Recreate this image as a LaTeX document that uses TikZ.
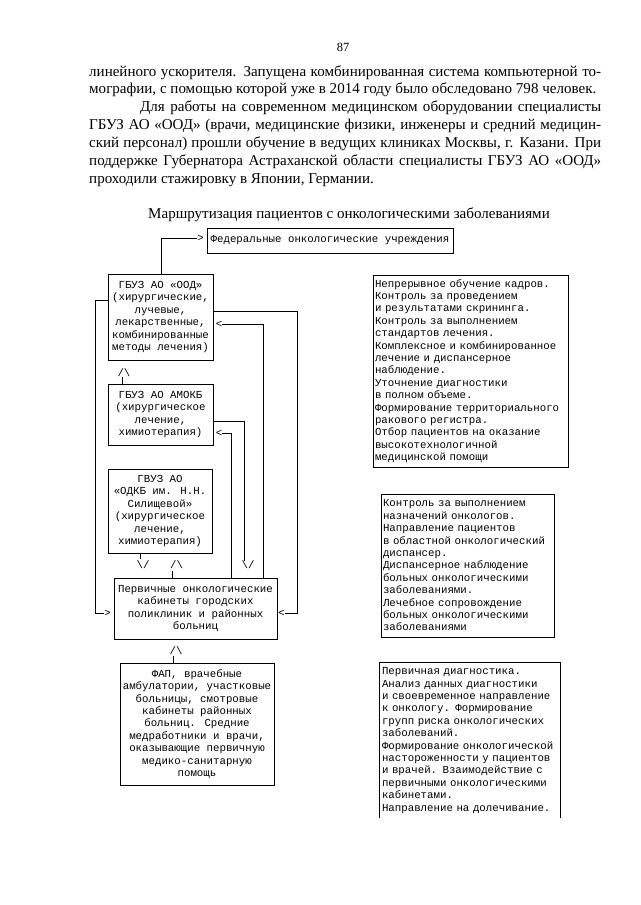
\documentclass[tikz,border=0pt]{standalone}
\usepackage{fontspec}
\setmainfont{Liberation Serif}
\newfontfamily\monof{Liberation Mono}
\newcommand\monosz{\monof\fontsize{10.75}{12.4}\selectfont}
\newcommand\bodysz{\fontsize{15.05}{17.9}\selectfont}
\begin{document}
\begin{tikzpicture}[x=1pt,y=-1pt,
  box/.style={draw, line width=0.7pt, inner sep=0pt, align=center, font=\monosz},
  lbox/.style={draw, line width=0.7pt, inner xsep=2pt, inner ysep=0pt, align=left, font=\monosz},
  arr/.style={inner sep=0pt, font=\monosz},
  conn/.style={line width=0.7pt},
  ptext/.style={anchor=base west, inner sep=0pt, font=\bodysz}]
\fill[white] (0,0) rectangle (640,905);
\useasboundingbox (0,0) rectangle (640,905);

% page text
\node[anchor=base, inner sep=0pt, font=\fontsize{12.5}{14}\selectfont] (pg) at (343,51) {87};
\node[ptext] (l1) at (89,76) {\makebox[512pt][s]{линейного ускорителя. Запущена комбинированная система компьютерной то-}};
\node[ptext] (l2) at (89,93.9) {мографии, с помощью которой уже в 2014 году было обследовано 798 человек.};
\node[ptext] (l3) at (140,111.8) {\makebox[461pt][s]{Для работы на современном медицинском оборудовании специалисты}};
\node[ptext] (l4) at (89,129.7) {\makebox[512pt][s]{ГБУЗ АО «ООД» (врачи, медицинские физики, инженеры и средний медицин-}};
\node[ptext] (l5) at (89,147.6) {\makebox[512pt][s]{ский персонал) прошли обучение в ведущих клиниках Москвы, г. Казани. При}};
\node[ptext] (l6) at (89,165.5) {\makebox[512pt][s]{поддержке Губернатора Астраханской области специалисты ГБУЗ АО «ООД»}};
\node[ptext] (l7) at (89,183.4) {проходили стажировку в Японии, Германии.};

\node[anchor=base, inner sep=0pt, font=\bodysz] (title) at (349,218) {Маршрутизация пациентов с онкологическими заболеваниями};

% boxes
\node[box, minimum width=246pt, minimum height=25pt] (fed) at (330,240.5) {Федеральные онкологические учреждения};
\node[box, minimum width=105pt, minimum height=86pt] (ood) at (160.5,317) {ГБУЗ АО «ООД»\\(хирургические,\\лучевые,\\лекарственные,\\комбинированные\\методы лечения)};
\node[box, minimum width=105pt, minimum height=61pt] (amokb) at (160.5,414.5) {ГБУЗ АО АМОКБ\\(хирургическое\\лечение,\\химиотерапия)};
\node[box, minimum width=104pt, minimum height=84pt] (odkb) at (160,511) {ГВУЗ АО\\«ОДКБ им. Н.Н.\\Силищевой»\\(хирургическое\\лечение,\\химиотерапия)};
\node[box, minimum width=163pt, minimum height=61pt] (prim) at (195.5,608.5) {Первичные онкологические\\кабинеты городских\\поликлиник и районных\\больниц};
\node[box, minimum width=154pt, minimum height=122pt] (fap) at (197,724) {ФАП, врачебные\\амбулатории, участковые\\больницы, смотровые\\кабинеты районных\\больниц. Средние\\медработники и врачи,\\оказывающие первичную\\медико-санитарную\\помощь};

\node[lbox, text width=191pt, minimum height=192pt] (r1) at (470.5,371) {Непрерывное обучение кадров.\\Контроль за проведением\\и результатами скрининга.\\Контроль за выполнением\\стандартов лечения.\\Комплексное и комбинированное\\лечение и диспансерное\\наблюдение.\\Уточнение диагностики\\в полном объеме.\\Формирование территориального\\ракового регистра.\\Отбор пациентов на оказание\\высокотехнологичной\\медицинской помощи};
\node[lbox, text width=169pt, minimum height=143pt] (r2) at (467.5,565.5) {Контроль за выполнением\\назначений онкологов.\\Направление пациентов\\в областной онкологический\\диспансер.\\Диспансерное наблюдение\\больных онкологическими\\заболеваниями.\\Лечебное сопровождение\\больных онкологическими\\заболеваниями};
\node[lbox, draw=none, text width=176pt, minimum height=155pt] (r3) at (470,740.5) {Первичная диагностика.\\Анализ данных диагностики\\и своевременное направление\\к онкологу. Формирование\\групп риска онкологических\\заболеваний.\\Формирование онкологической\\настороженности у пациентов\\и врачей. Взаимодействие с\\первичными онкологическими\\кабинетами.\\Направление на долечивание.};
\draw[conn] (r3.south west) -- (r3.north west) -- (r3.north east) -- (r3.south east);

% arrow characters
\node[arr] (aF) at (200.5,238) {>};
\node[arr] (aL) at (107.5,613) {>};
\node[arr] (aR) at (281.5,613) {<};
\node[arr] (aD) at (219,324) {<};
\node[arr] (aG) at (219,433) {<};
\node[arr] (u1) at (124,373) {/\textbackslash};
\node[arr] (d1) at (143,565) {\textbackslash/};
\node[arr] (u2) at (176.5,565) {/\textbackslash};
\node[arr] (d2) at (248,565) {\textbackslash/};
\node[arr] (u3) at (176,651) {/\textbackslash};

% connectors
\coordinate (cF) at (161,238);
\draw[conn] (ood.north -| cF) -- (cF) -- (aF.west);
\coordinate (cL1) at (95,300);
\coordinate (cL2) at (95,613);
\draw[conn] (ood.west |- cL1) -- (cL1) -- (cL2) -- (aL.west);
\coordinate (cR1) at (297,311);
\coordinate (cR2) at (297,613);
\draw[conn] (ood.east |- cR1) -- (cR1) -- (cR2) -- (aR.east);
\coordinate (cD) at (263,324);
\draw[conn] (prim.north -| cD) -- (cD) -- (aD.east);
\coordinate (cG) at (231,433);
\draw[conn] (prim.north -| cG) -- (cG) -- (aG.east);
\coordinate (cE) at (244,421);
\draw[conn] (amokb.east |- cE) -- (cE) -- (cE |- d2.north);
\coordinate (cU1) at (122,377);
\draw[conn] (amokb.north -| cU1) -- (cU1);
\coordinate (cd1) at (140,559);
\draw[conn] (odkb.south -| cd1) -- (cd1);
\coordinate (cu2) at (172,571);
\draw[conn] (prim.north -| cu2) -- (cu2);
\coordinate (cu3) at (173,656);
\draw[conn] (fap.north -| cu3) -- (cu3);
\end{tikzpicture}
\end{document}
